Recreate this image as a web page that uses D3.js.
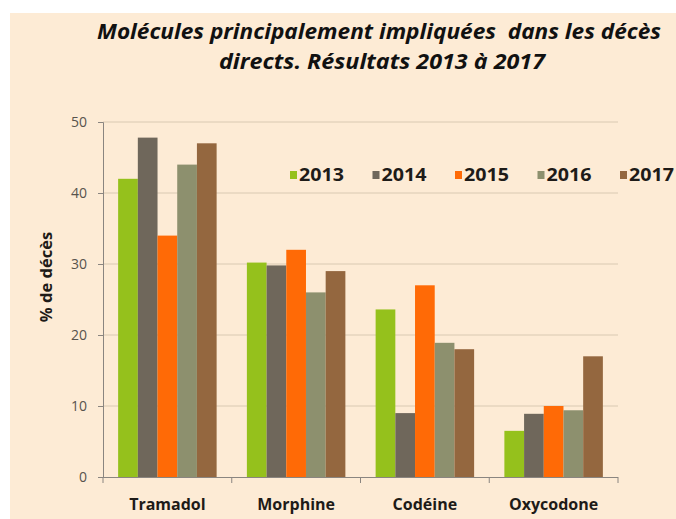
<!DOCTYPE html>
<html><head><meta charset="utf-8">
<script src="https://cdn.jsdelivr.net/npm/d3@7"></script>
<style>html,body{margin:0;padding:0;background:#fff;}svg{display:block;}</style>
</head><body>
<script>
const categories = ["Tramadol", "Morphine", "Codéine", "Oxycodone"];
const years = ["2013", "2014", "2015", "2016", "2017"];
const values2013 = [42, 30.2, 23.6, 6.5];
const values2014 = [47.8, 29.8, 9, 8.9];
const values2015 = [34, 32, 27, 10];
const values2016 = [44, 26, 18.9, 9.4];
const values2017 = [47, 29, 18, 17];
const yTicks = [0, 10, 20, 30, 40, 50];
const colors = ["#95c11c", "#6f675b", "#ff6a06", "#8d906e", "#94673f"];
const titleLines = ["Molécules principalement impliquées  dans les décès", "directs. Résultats 2013 à 2017"];
const yLabel = "% de décès";

const series = [values2013, values2014, values2015, values2016, values2017];
const FONT = "'Open Sans', Lato, sans-serif";
const W = 676, H = 519;
const svg = d3.select("body").append("svg").attr("width", W).attr("height", H);
svg.append("rect").attr("x", 10).attr("y", 13).attr("width", W - 10).attr("height", H - 13).attr("fill", "#fdebd5");

const pL = 103, pR = 618, pT = 122, pB = 477;
const x0 = d3.scaleBand().domain(categories).range([pL, pR]).paddingInner(0.235).paddingOuter(0.1175);
const x1 = d3.scaleBand().domain(years).range([0, x0.bandwidth()]);
const y = d3.scaleLinear().domain([0, 50]).range([pB, pT]);

// gridlines
svg.append("g").selectAll("line").data(yTicks.filter(d => d > 0)).join("line")
  .attr("x1", pL).attr("x2", pR).attr("y1", d => y(d)).attr("y2", d => y(d))
  .attr("stroke", "#d9c9b2").attr("stroke-width", 1);

// bars
const g = svg.append("g");
categories.forEach((c, i) => {
  years.forEach((yr, j) => {
    g.append("rect")
      .attr("x", x0(c) + x1(yr))
      .attr("y", y(series[j][i]))
      .attr("width", x1.bandwidth())
      .attr("height", y(0) - y(series[j][i]))
      .attr("fill", colors[j]);
  });
});

// y axis
const yAxis = d3.axisLeft(y).tickValues(yTicks).tickSize(5).tickPadding(11);
const ya = svg.append("g").attr("transform", `translate(${pL},0)`).call(yAxis);
ya.select(".domain").attr("stroke", "#8a8580");
ya.selectAll(".tick line").attr("stroke", "#8a8580");
ya.selectAll(".tick text").attr("fill", "#58534d").attr("font-family", FONT).attr("font-size", 14);

// x axis
const xa = svg.append("g").attr("transform", `translate(0,${pB})`);
xa.append("line").attr("x1", pL).attr("x2", pR).attr("y1", 0.5).attr("y2", 0.5).attr("stroke", "#8a8580");
const bounds = categories.map(c => x0(c) - x0.step() * x0.paddingInner() / 2).concat([pR]);
xa.selectAll("line.tk").data(bounds).join("line").attr("class", "tk")
  .attr("x1", d => d).attr("x2", d => d).attr("y1", 0).attr("y2", 6).attr("stroke", "#8a8580");
xa.selectAll("text").data(categories).join("text")
  .attr("x", d => x0(d) + x0.bandwidth() / 2).attr("y", 33)
  .attr("text-anchor", "middle").attr("font-family", FONT)
  .attr("font-weight", "bold").attr("font-size", 16).attr("fill", "#1e1b18").text(d => d);

// y label
svg.append("text").attr("transform", "translate(52,277) rotate(-90)")
  .attr("text-anchor", "middle").attr("font-family", FONT)
  .attr("font-weight", "bold").attr("font-size", 16.5).attr("fill", "#1e1b18").text(yLabel);

// title
const tl = [[379, 39, 564], [382, 69, 326]];
titleLines.forEach((t, i) => {
  svg.append("text").attr("x", tl[i][0]).attr("y", tl[i][1]).attr("text-anchor", "middle")
    .attr("font-family", FONT).attr("font-weight", "bold").attr("font-style", "italic")
    .attr("font-size", 21).attr("fill", "#111").attr("xml:space", "preserve")
    .attr("textLength", tl[i][2]).attr("lengthAdjust", "spacingAndGlyphs").text(t);
});

// legend
const lg = svg.append("g");
years.forEach((yr, j) => {
  const lx = 290 + j * 82.5;
  lg.append("rect").attr("x", lx).attr("y", 171).attr("width", 7).attr("height", 8).attr("fill", colors[j]);
  lg.append("text").attr("x", lx + 9).attr("y", 181).attr("font-family", FONT)
    .attr("font-weight", "bold").attr("font-size", 17).attr("fill", "#1e1b18")
    .attr("textLength", 45).attr("lengthAdjust", "spacingAndGlyphs").text(yr);
});
</script>
</body></html>
